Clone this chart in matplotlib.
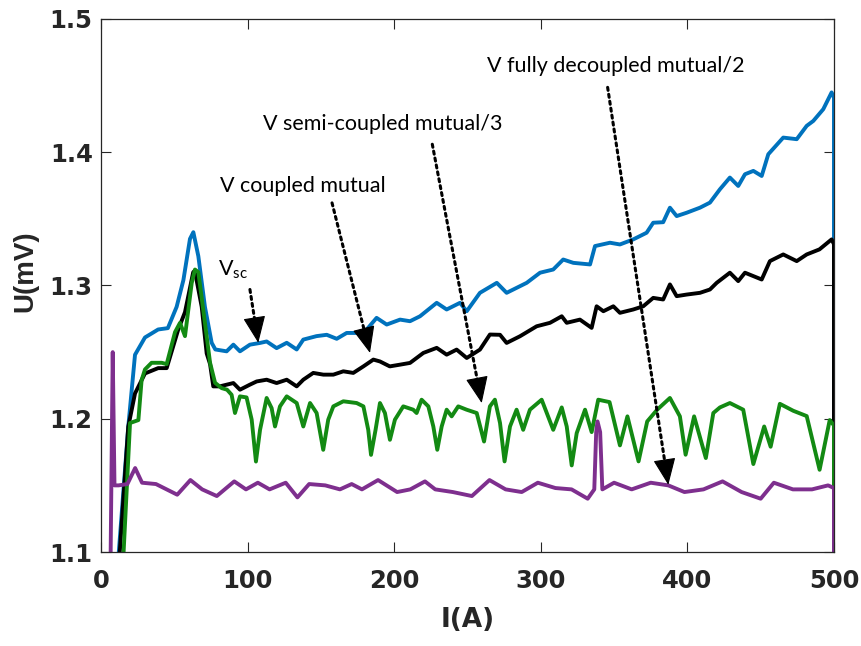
import matplotlib
matplotlib.use("Agg")
import matplotlib.pyplot as plt

# ---------------- data ----------------
I_sc = [11.8, 18.6, 23.2, 30, 39, 45.6, 51.6, 56.2, 60.7, 63, 66.4, 70.9, 75.5, 78, 85.7,
        90.3, 94.8, 101.6, 108.5, 113, 119.8, 126.7, 133.5, 138, 147, 154, 160.8, 167.6,
        174.4, 181.2, 188, 194.9, 204, 210.8, 217.6, 229, 235.8, 244.9, 249.5, 258.5, 270,
        276.7, 290.4, 299.5, 308.5, 315.3, 322.2, 333.6, 337, 347.2, 354, 363.1, 372.2,
        376.7, 383.5, 388.1, 392.7, 399.5, 408.6, 415.4, 422.2, 429, 434.7, 439.3, 445,
        450.7, 455.2, 465.4, 474.6, 481.4, 485.9, 492.7, 498.4, 500, 500]
U_sc = [1.095, 1.194, 1.248, 1.261, 1.267, 1.268, 1.284, 1.304, 1.335, 1.340, 1.322, 1.284,
        1.257, 1.252, 1.2506, 1.2556, 1.2506, 1.2556, 1.2569, 1.258, 1.253, 1.257, 1.252,
        1.2594, 1.262, 1.263, 1.260, 1.2644, 1.2644, 1.2669, 1.2757, 1.2707, 1.2744, 1.2732,
        1.2769, 1.287, 1.282, 1.287, 1.2807, 1.2945, 1.302, 1.2945, 1.302, 1.3096, 1.312,
        1.3195, 1.317, 1.3158, 1.3296, 1.3321, 1.3308, 1.3346, 1.3396, 1.3471, 1.3475,
        1.3584, 1.3521, 1.3546, 1.3584, 1.3622, 1.3722, 1.381, 1.3747, 1.3835, 1.386,
        1.3822, 1.3985, 1.411, 1.4098, 1.4198, 1.4235, 1.4323, 1.4449, 1.441, 1.09]

I_coupled = [12.5, 18.6, 23.2, 30, 39, 44.8, 52.7, 57.3, 62.9, 64, 68.7, 72.1, 74.4, 76.6, 81,
             90.3, 94.8, 101.6, 106.2, 113, 119.8, 126.7, 133.5, 138, 144.8, 151.7, 158.5,
             165.3, 172.1, 179, 185.8, 190.3, 197, 204, 210.8, 219.9, 229, 235.8, 242.6,
             249.5, 258.5, 265.3, 272.2, 276.7, 285.8, 297.2, 306.3, 314.3, 317.7, 326.7,
             334.7, 338.1, 342.7, 349.5, 354, 363.1, 369.9, 376.7, 383.5, 388.1, 392.7,
             399.5, 408.6, 415.4, 420, 429, 434.7, 439.3, 450.7, 456.3, 465.4, 474.6, 481.4,
             490.1, 498.4, 500, 500]
U_coupled = [1.095, 1.194, 1.219, 1.234, 1.238, 1.238, 1.267, 1.280, 1.310, 1.311, 1.284,
             1.249, 1.241, 1.2243, 1.2243, 1.2268, 1.2218, 1.2256, 1.228, 1.2293, 1.2268,
             1.2293, 1.2243, 1.2293, 1.2344, 1.2331, 1.2331, 1.2356, 1.2344, 1.2393, 1.2444,
             1.243, 1.2393, 1.2406, 1.2419, 1.2494, 1.2532, 1.2481, 1.2519, 1.2456, 1.2519,
             1.2632, 1.263, 1.2569, 1.2619, 1.2694, 1.272, 1.2769, 1.272, 1.2744, 1.2682,
             1.2844, 1.2807, 1.2844, 1.2795, 1.282, 1.2844, 1.2907, 1.2895, 1.3008, 1.292,
             1.2932, 1.2945, 1.297, 1.302, 1.3096, 1.3033, 1.3096, 1.3045, 1.3183, 1.3233,
             1.3183, 1.3233, 1.3271, 1.3346, 1.331, 1.09]

I_semi = [15.2, 19.8, 25.5, 27.7, 30, 34.5, 41.4, 44.8, 50.5, 53.9, 57.3, 61.9, 64.1, 66.4,
          70.9, 74.4, 77.8, 82.3, 86, 89.1, 91.4, 94.8, 99.3, 102.8, 105.7, 108.5, 113,
          116.4, 118.7, 122.1, 126.7, 133.5, 138, 142.6, 147.1, 151.6, 155, 158.5, 165.3,
          174.4, 179, 182.3, 184.2, 187.3, 190.3, 193.7, 197.1, 200.5, 206.2, 213, 215.3,
          218.7, 223.3, 226.7, 229.4, 232.4, 235.8, 239.2, 243.7, 249.4, 256.3, 261.3, 265.3,
          268.7, 272.2, 275.3, 279, 283.5, 288, 292.6, 300.6, 308.5, 314.3, 317.7, 321.1,
          324.5, 330.2, 334.7, 339.2, 346.9, 354, 359.1, 366.7, 372.6, 379.4, 388.1, 394.9,
          398.8, 404.6, 412.6, 417.7, 422.2, 429, 438.1, 445, 452.4, 456.8, 463.1, 472.2,
          481.4, 490.2, 497.1, 500, 500]
U_semi = [1.095, 1.1968, 1.199, 1.229, 1.237, 1.242, 1.242, 1.241, 1.265, 1.272, 1.262, 1.302,
          1.312, 1.310, 1.272, 1.242, 1.227, 1.223, 1.2218, 1.218, 1.2043, 1.2168, 1.216,
          1.1993, 1.1679, 1.1917, 1.2156, 1.208, 1.1942, 1.2093, 1.2168, 1.2118, 1.1942,
          1.2118, 1.2043, 1.1767, 1.1993, 1.2093, 1.2131, 1.2118, 1.2093, 1.1917, 1.1729,
          1.1917, 1.2118, 1.2043, 1.1842, 1.1993, 1.2093, 1.2068, 1.2043, 1.2143, 1.2093,
          1.1942, 1.1767, 1.1942, 1.2068, 1.2018, 1.2093, 1.2068, 1.2043, 1.1829, 1.2093,
          1.2143, 1.1968, 1.1680, 1.1942, 1.2068, 1.1917, 1.2068, 1.2143, 1.1917, 1.2085,
          1.1942, 1.1650, 1.1892, 1.2068, 1.1900, 1.2143, 1.2125, 1.1800, 1.2018, 1.1680,
          1.1980, 1.2068, 1.2156, 1.2018, 1.1730, 1.2018, 1.1705, 1.2043, 1.2085, 1.2118,
          1.2068, 1.1660, 1.1942, 1.1790, 1.2112, 1.2060, 1.2020, 1.1617, 1.1990, 1.195, 1.09]

I_fully = [6.5, 8, 9.2, 12, 18, 23.3, 28, 37.5, 52, 61, 69, 79, 90.9, 98.9, 107, 115, 126,
           134, 142, 153, 163, 171, 178, 189, 202, 211, 221, 228, 240, 253, 265, 276, 287,
           298, 310, 321, 332, 336.5, 337.8, 338.7, 340.5, 342, 350, 362, 375, 387, 398, 411,
           424, 437, 450, 459, 472, 485, 496, 500, 500]
U_fully = [1.09, 1.25, 1.15, 1.150, 1.151, 1.163, 1.152, 1.151, 1.143, 1.154, 1.147, 1.142,
           1.153, 1.147, 1.152, 1.147, 1.152, 1.141, 1.151, 1.150, 1.147, 1.151, 1.147, 1.154,
           1.145, 1.147, 1.153, 1.147, 1.145, 1.142, 1.154, 1.147, 1.145, 1.152, 1.148, 1.147,
           1.140, 1.147, 1.19, 1.198, 1.19, 1.147, 1.152, 1.147, 1.152, 1.150, 1.145, 1.147,
           1.153, 1.145, 1.140, 1.152, 1.147, 1.147, 1.150, 1.148, 1.09]

x_ticks = [0, 100, 200, 300, 400, 500]
y_ticks = [1.1, 1.2, 1.3, 1.4, 1.5]
y_tick_labels = ["1.1", "1.2", "1.3", "1.4", "1.5"]

labels = [r"V$_{\mathregular{sc}}$", "V coupled mutual", "V semi-coupled mutual/3",
          "V fully decoupled mutual/2"]

# ---------------- figure ----------------
plt.rcParams["mathtext.default"] = "regular"
fig = plt.figure(figsize=(8.61, 6.46), dpi=100)
ax = fig.add_axes([0.1173, 0.1455, 0.8513, 0.8251])

lw = 2.8
ax.plot(I_sc, U_sc, color="#0072BD", lw=lw, solid_joinstyle="round")
ax.plot(I_coupled, U_coupled, color="black", lw=lw, solid_joinstyle="round")
ax.plot(I_semi, U_semi, color="#138A13", lw=lw, solid_joinstyle="round")
ax.plot(I_fully, U_fully, color="#7E2F8E", lw=lw, solid_joinstyle="round")

ax.set_xlim(0, 500)
ax.set_ylim(1.1, 1.5)
ax.set_xticks(x_ticks)
ax.set_yticks(y_ticks)
ax.set_yticklabels(y_tick_labels)

for lab in ax.get_xticklabels() + ax.get_yticklabels():
    lab.set_fontfamily("DejaVu Sans")
    lab.set_fontweight("bold")
    lab.set_fontsize(17.5)
    lab.set_color("#262626")

ax.tick_params(direction="in", top=True, right=True, length=7, width=0.8,
               color="#262626")
ax.tick_params(axis="x", pad=12)
ax.tick_params(axis="y", pad=6)
for sp in ax.spines.values():
    sp.set_linewidth(0.9)
    sp.set_color("#262626")

ax.set_xlabel("I(A)", fontfamily="DejaVu Sans", fontweight="bold", fontsize=19,
              color="#262626")
ax.set_ylabel("U(mV)", fontfamily="Liberation Sans", fontweight="bold", fontsize=20,
              color="#262626")
ax.xaxis.set_label_coords(0.5, -0.103)
ax.yaxis.set_label_coords(-0.085, 0.526)

# ---------------- annotations ----------------
text_pos = [(79.8, 1.312), (81.2, 1.3744), (110.5, 1.421), (263.3, 1.4647)]
arrow_start = [(101.6, 1.297), (157.6, 1.362), (226, 1.406), (345.6, 1.4487)]
arrow_end = [(107.3, 1.257), (183.5, 1.2494), (259.7, 1.2118), (387, 1.1504)]

for lab, tp in zip(labels, text_pos):
    ax.text(tp[0], tp[1], lab, fontfamily="Lato", fontsize=15.5, ha="left",
            va="center", color="black")

fig.canvas.draw()
to_disp = ax.transData.transform
to_data = ax.transData.inverted().transform
head_px = 17.0
for s, e in zip(arrow_start, arrow_end):
    sp_, ep_ = to_disp(s), to_disp(e)
    d = ep_ - sp_
    L = (d[0] ** 2 + d[1] ** 2) ** 0.5
    hb = to_data(ep_ - d / L * head_px)
    # dotted shaft
    ax.annotate("", xy=tuple(hb), xytext=s,
                arrowprops=dict(arrowstyle="-", linestyle=(0, (1, 1.3)), lw=2.2,
                                color="black", shrinkA=0, shrinkB=0))
    # solid filled head
    ax.annotate("", xy=e, xytext=tuple(hb),
                arrowprops=dict(arrowstyle="-|>,head_length=0.85,head_width=0.36",
                                mutation_scale=20, lw=0.8, color="black",
                                shrinkA=0, shrinkB=0))

fig.savefig("out.png", dpi=100)
